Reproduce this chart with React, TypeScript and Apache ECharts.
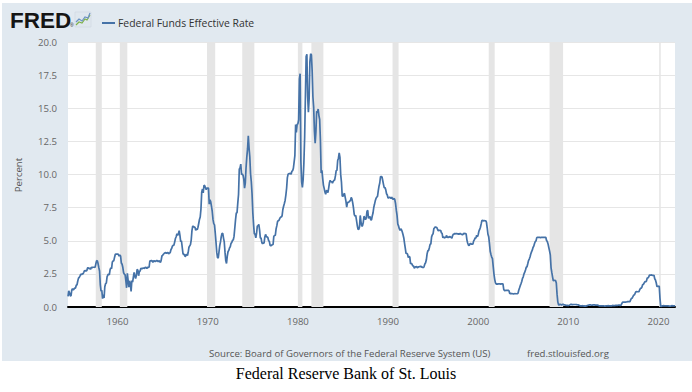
import React, { useEffect, useRef } from "react";
import * as echarts from "echarts";

const seriesName = "Federal Funds Effective Rate";
const startYear = 1954;
const startMonth = 7;
// Monthly values, Jul 1954 onward
const fedFundsRate: number[] = [
  0.8, 1.22, 1.07, 0.85, 0.83, 1.28,
  1.39, 1.29, 1.35, 1.43, 1.43, 1.64, 1.68, 1.96, 2.18, 2.24, 2.35, 2.48,
  2.45, 2.5, 2.5, 2.62, 2.75, 2.71, 2.75, 2.73, 2.95, 2.96, 2.88, 2.94,
  2.84, 3.0, 2.96, 3.0, 3.0, 3.0, 2.99, 3.24, 3.47, 3.5, 3.28, 2.98,
  2.72, 1.67, 1.2, 1.26, 0.63, 0.93, 0.68, 1.53, 1.76, 1.8, 2.27, 2.42,
  2.48, 2.43, 2.8, 2.96, 2.9, 3.39, 3.47, 3.5, 3.76, 3.98, 4.0, 3.99,
  3.99, 3.97, 3.84, 3.92, 3.85, 3.32, 3.23, 2.98, 2.6, 2.47, 2.44, 1.98,
  1.45, 2.54, 2.02, 1.49, 1.98, 1.73, 1.17, 2.0, 1.88, 2.26, 2.61, 2.33,
  2.15, 2.37, 2.85, 2.78, 2.36, 2.68, 2.71, 2.93, 2.9, 2.9, 2.94, 2.93,
  2.92, 3.0, 2.98, 2.9, 3.0, 2.99, 3.02, 3.49, 3.48, 3.5, 3.48, 3.38,
  3.48, 3.48, 3.43, 3.47, 3.5, 3.5, 3.42, 3.5, 3.45, 3.36, 3.52, 3.85,
  3.9, 3.98, 4.04, 4.09, 4.1, 4.04, 4.09, 4.12, 4.01, 4.08, 4.1, 4.32,
  4.42, 4.6, 4.65, 4.67, 4.9, 5.17, 5.3, 5.53, 5.4, 5.53, 5.76, 5.4,
  4.94, 5.0, 4.53, 4.05, 3.94, 3.98, 3.79, 3.9, 3.99, 3.88, 4.13, 4.51,
  4.61, 4.71, 5.05, 5.76, 6.11, 6.07, 6.02, 6.03, 5.78, 5.91, 5.82, 6.02,
  6.3, 6.61, 6.79, 7.41, 8.67, 8.9, 8.61, 9.19, 9.15, 9.0, 8.85, 8.97,
  8.98, 8.98, 7.76, 8.1, 7.94, 7.6, 7.21, 6.61, 6.29, 6.2, 5.6, 4.9,
  4.14, 3.72, 3.71, 4.16, 4.63, 4.91, 5.31, 5.56, 5.55, 5.2, 4.91, 4.14,
  3.5, 3.29, 3.83, 4.17, 4.27, 4.46, 4.55, 4.8, 4.87, 5.04, 5.06, 5.33,
  5.94, 6.58, 7.09, 7.12, 7.84, 8.49, 10.4, 10.5, 10.78, 10.01, 10.03, 9.95,
  9.65, 8.97, 9.35, 10.51, 11.31, 11.93, 12.92, 12.01, 11.34, 10.06, 9.45, 8.53,
  7.13, 6.24, 5.54, 5.49, 5.22, 5.55, 6.1, 6.14, 6.24, 5.82, 5.22, 5.2,
  4.87, 4.77, 4.84, 4.82, 5.29, 5.48, 5.31, 5.29, 5.25, 5.02, 4.95, 4.65,
  4.61, 4.68, 4.69, 4.73, 5.35, 5.39, 5.42, 5.9, 6.14, 6.47, 6.51, 6.56,
  6.7, 6.78, 6.79, 6.89, 7.36, 7.6, 7.81, 8.04, 8.45, 8.96, 9.76, 10.03,
  10.07, 10.06, 10.09, 10.01, 10.24, 10.29, 10.47, 10.94, 11.43, 13.77, 13.18, 13.78,
  13.82, 14.13, 17.19, 17.61, 10.98, 9.47, 9.03, 9.61, 10.87, 12.81, 15.85, 18.9,
  19.08, 15.93, 14.7, 15.72, 18.52, 19.1, 19.04, 17.82, 15.87, 15.08, 13.31, 12.37,
  13.22, 14.78, 14.68, 14.94, 14.45, 14.15, 12.59, 10.12, 10.31, 9.71, 9.2, 8.95,
  8.68, 8.51, 8.77, 8.8, 8.63, 8.98, 9.37, 9.56, 9.45, 9.48, 9.34, 9.47,
  9.56, 9.59, 9.91, 10.29, 10.32, 11.06, 11.23, 11.64, 11.3, 9.99, 9.43, 8.38,
  8.35, 8.5, 8.58, 8.27, 7.97, 7.53, 7.88, 7.9, 7.92, 7.99, 8.05, 8.27,
  8.14, 7.86, 7.48, 6.99, 6.85, 6.92, 6.56, 6.17, 5.89, 5.85, 6.04, 6.91,
  6.43, 6.1, 6.13, 6.37, 6.85, 6.73, 6.58, 6.73, 7.22, 7.29, 6.69, 6.77,
  6.83, 6.58, 6.58, 6.87, 7.09, 7.51, 7.75, 8.01, 8.19, 8.3, 8.35, 8.76,
  9.12, 9.36, 9.85, 9.84, 9.81, 9.53, 9.24, 8.99, 9.02, 8.84, 8.55, 8.45,
  8.23, 8.24, 8.28, 8.26, 8.18, 8.29, 8.15, 8.13, 8.2, 8.11, 7.81, 7.31,
  6.91, 6.25, 6.12, 5.91, 5.78, 5.9, 5.82, 5.66, 5.45, 5.21, 4.81, 4.43,
  4.03, 4.06, 3.98, 3.73, 3.82, 3.76, 3.25, 3.3, 3.22, 3.1, 3.09, 2.92,
  3.02, 3.03, 3.07, 2.96, 3.0, 3.04, 3.06, 3.03, 3.09, 2.99, 3.02, 2.96,
  3.05, 3.25, 3.34, 3.56, 4.01, 4.25, 4.26, 4.47, 4.73, 4.76, 5.29, 5.45,
  5.53, 5.92, 5.98, 6.05, 6.01, 6.0, 5.85, 5.74, 5.8, 5.76, 5.8, 5.6,
  5.56, 5.22, 5.31, 5.22, 5.24, 5.27, 5.4, 5.22, 5.3, 5.24, 5.31, 5.29,
  5.25, 5.19, 5.39, 5.51, 5.5, 5.56, 5.52, 5.54, 5.54, 5.5, 5.52, 5.5,
  5.56, 5.51, 5.49, 5.45, 5.49, 5.56, 5.54, 5.55, 5.51, 5.07, 4.83, 4.68,
  4.63, 4.76, 4.81, 4.74, 4.74, 4.76, 4.99, 5.07, 5.22, 5.2, 5.42, 5.3,
  5.45, 5.73, 5.85, 6.02, 6.27, 6.53, 6.54, 6.5, 6.52, 6.51, 6.51, 6.4,
  5.98, 5.49, 5.31, 4.8, 4.21, 3.97, 3.77, 3.65, 3.07, 2.49, 2.09, 1.82,
  1.73, 1.74, 1.73, 1.75, 1.75, 1.75, 1.73, 1.74, 1.75, 1.75, 1.34, 1.24,
  1.24, 1.26, 1.25, 1.26, 1.26, 1.22, 1.01, 1.03, 1.01, 1.01, 1.0, 0.98,
  1.0, 1.01, 1.0, 1.0, 1.0, 1.03, 1.26, 1.43, 1.61, 1.76, 1.93, 2.16,
  2.28, 2.5, 2.63, 2.79, 3.0, 3.04, 3.26, 3.5, 3.62, 3.78, 4.0, 4.16,
  4.29, 4.49, 4.59, 4.79, 4.94, 4.99, 5.24, 5.25, 5.25, 5.25, 5.25, 5.24,
  5.25, 5.26, 5.26, 5.25, 5.25, 5.25, 5.26, 5.02, 4.94, 4.76, 4.49, 4.24,
  3.94, 2.98, 2.61, 2.28, 1.98, 2.0, 2.01, 2.0, 1.81, 0.97, 0.39, 0.16,
  0.15, 0.22, 0.18, 0.15, 0.18, 0.21, 0.16, 0.16, 0.15, 0.12, 0.12, 0.12,
  0.11, 0.13, 0.16, 0.2, 0.2, 0.18, 0.18, 0.19, 0.19, 0.19, 0.19, 0.18,
  0.17, 0.16, 0.14, 0.1, 0.09, 0.09, 0.07, 0.1, 0.08, 0.07, 0.08, 0.07,
  0.08, 0.1, 0.13, 0.14, 0.16, 0.16, 0.16, 0.13, 0.14, 0.16, 0.16, 0.16,
  0.14, 0.15, 0.14, 0.15, 0.11, 0.09, 0.09, 0.08, 0.08, 0.09, 0.08, 0.09,
  0.07, 0.07, 0.08, 0.09, 0.09, 0.1, 0.09, 0.09, 0.09, 0.09, 0.09, 0.12,
  0.11, 0.11, 0.11, 0.12, 0.12, 0.13, 0.13, 0.14, 0.14, 0.12, 0.12, 0.24,
  0.34, 0.38, 0.36, 0.37, 0.37, 0.38, 0.39, 0.4, 0.4, 0.4, 0.41, 0.54,
  0.65, 0.66, 0.79, 0.9, 0.91, 1.04, 1.15, 1.16, 1.15, 1.15, 1.16, 1.3,
  1.41, 1.42, 1.51, 1.69, 1.7, 1.82, 1.91, 1.91, 1.95, 2.19, 2.2, 2.27,
  2.4, 2.4, 2.41, 2.42, 2.39, 2.38, 2.4, 2.13, 2.04, 1.83, 1.55, 1.55,
  1.55, 1.58, 0.65, 0.05, 0.05, 0.08, 0.09, 0.1, 0.09, 0.09, 0.09, 0.09,
  0.09, 0.08, 0.07, 0.07, 0.06, 0.08, 0.1, 0.09, 0.08, 0.08, 0.08,
];

// NBER recessions [start, end] as decimal years
const recessionStarts = [1957.58, 1960.25, 1969.92, 1973.83, 1980.0, 1981.5, 1990.5, 2001.17, 2007.92, 2020.08];
const recessionEnds = [1958.25, 1961.08, 1970.83, 1975.17, 1980.5, 1982.83, 1991.17, 2001.83, 2009.42, 2020.25];

const xTickYears = [1960, 1970, 1980, 1990, 2000, 2010, 2020];
const yMin = 0;
const yMax = 20;
const yStep = 2.5;

const uiFont = "'Open Sans', 'Noto Sans', sans-serif";

export default function App() {
  const ref = useRef<HTMLDivElement>(null);

  useEffect(() => {
    document.body.style.margin = "0";
    if (!ref.current) return;
    const chart = echarts.init(ref.current, undefined, { renderer: "svg" });

    const points = fedFundsRate.map((v, i) => [
      startYear + (startMonth - 1 + i) / 12,
      v,
    ]);
    const xMin = startYear + (startMonth - 1) / 12;
    const xMax = startYear + (startMonth - 1 + fedFundsRate.length - 1) / 12;

    const bands = recessionStarts.map((s, i) => [
      { xAxis: s },
      { xAxis: recessionEnds[i] },
    ]);

    chart.setOption({
      animation: false,
      backgroundColor: "#ffffff",
      textStyle: { fontFamily: uiFont },
      graphic: [
        {
          type: "rect",
          z: -10,
          silent: true,
          shape: { x: 2, y: 3, width: 690, height: 358 },
          style: { fill: "#e1e9f0" },
        },
        {
          type: "text",
          x: 10,
          y: 9,
          style: {
            text: "FRED",
            font: "bold 22.5px 'Liberation Sans', Arial, sans-serif",
            fill: "#151515",
          },
        },
        {
          type: "text",
          x: 70,
          y: 22,
          style: { text: "\u00ae", font: "5px 'Liberation Sans'", fill: "#1a1a1a" },
        },
        {
          type: "rect",
          shape: { x: 75, y: 12, width: 16, height: 15 },
          style: { fill: "#dfe7ee", stroke: "#c9d3dc", lineWidth: 0.5 },
        },
        {
          type: "polyline",
          shape: { points: [[76, 25], [79, 22], [82, 23], [85, 19], [87, 20], [90, 15]] },
          style: { stroke: "#7fb24a", lineWidth: 1.2, fill: "none" },
        },
        {
          type: "polyline",
          shape: { points: [[76, 22], [79, 19], [82, 21], [85, 17], [88, 18], [90, 13]] },
          style: { stroke: "#6c93c2", lineWidth: 1.2, fill: "none" },
        },
        {
          type: "text",
          x: 18,
          y: 175,
          rotation: Math.PI / 2,
          style: {
            text: "Percent",
            font: `9.6px ${uiFont}`,
            fill: "#555555",
            align: "center",
            verticalAlign: "middle",
          },
        },
        {
          type: "text",
          x: 209,
          y: 353,
          style: {
            text: "Source: Board of Governors of the Federal Reserve System (US)",
            font: `9.6px ${uiFont}`,
            fill: "#555555",
            verticalAlign: "middle",
          },
        },
        {
          type: "text",
          x: 527,
          y: 353,
          style: {
            text: "fred.stlouisfed.org",
            font: `9.6px ${uiFont}`,
            fill: "#555555",
            verticalAlign: "middle",
          },
        },
        {
          type: "text",
          x: 346,
          y: 373,
          style: {
            text: "Federal Reserve Bank of St. Louis",
            font: "16px 'Liberation Serif', 'Times New Roman', serif",
            fill: "#000000",
            align: "center",
            verticalAlign: "middle",
          },
        },
      ],
      legend: {
        left: 97,
        top: 13,
        icon: "rect",
        itemWidth: 13,
        itemHeight: 2,
        itemGap: 5,
        textStyle: { fontSize: 10.4, color: "#333333", fontFamily: uiFont, padding: [0, 0, 0, -2] },
        data: [seriesName],
      },
      grid: {
        left: 68,
        right: 17,
        top: 42,
        bottom: 85,
        show: true,
        backgroundColor: "#ffffff",
        borderWidth: 0,
      },
      xAxis: {
        type: "value",
        min: xMin,
        max: xMax,
        axisLine: { show: true, onZero: false, lineStyle: { color: "#000000", width: 2 } },
        axisTick: { show: false },
        splitLine: { show: false },
        axisLabel: {
          customValues: xTickYears,
          color: "#666666",
          fontSize: 9.6,
          margin: 9,
          formatter: (v: number) => String(Math.round(v)),
        },
      },
      yAxis: {
        type: "value",
        min: yMin,
        max: yMax,
        interval: yStep,
        axisLine: { show: false },
        axisTick: { show: false },
        splitLine: { show: true, lineStyle: { color: "#e6e6e6", width: 1 } },
        axisLabel: {
          color: "#666666",
          fontSize: 9.6,
          margin: 11,
          formatter: (v: number) => v.toFixed(1),
        },
      },
      series: [
        {
          type: "line",
          name: "recessions",
          data: [],
          z: 1,
          silent: true,
          markArea: {
            silent: true,
            itemStyle: { color: "#e5e5e5" },
            data: bands,
          },
        },
        {
          type: "line",
          name: seriesName,
          data: points,
          z: 3,
          showSymbol: false,
          symbol: "none",
          lineStyle: { color: "#4572a7", width: 1.7 },
          itemStyle: { color: "#4572a7" },
        },
      ],
    });

    return () => chart.dispose();
  }, []);

  return <div ref={ref} style={{ width: 692, height: 392 }} />;
}
